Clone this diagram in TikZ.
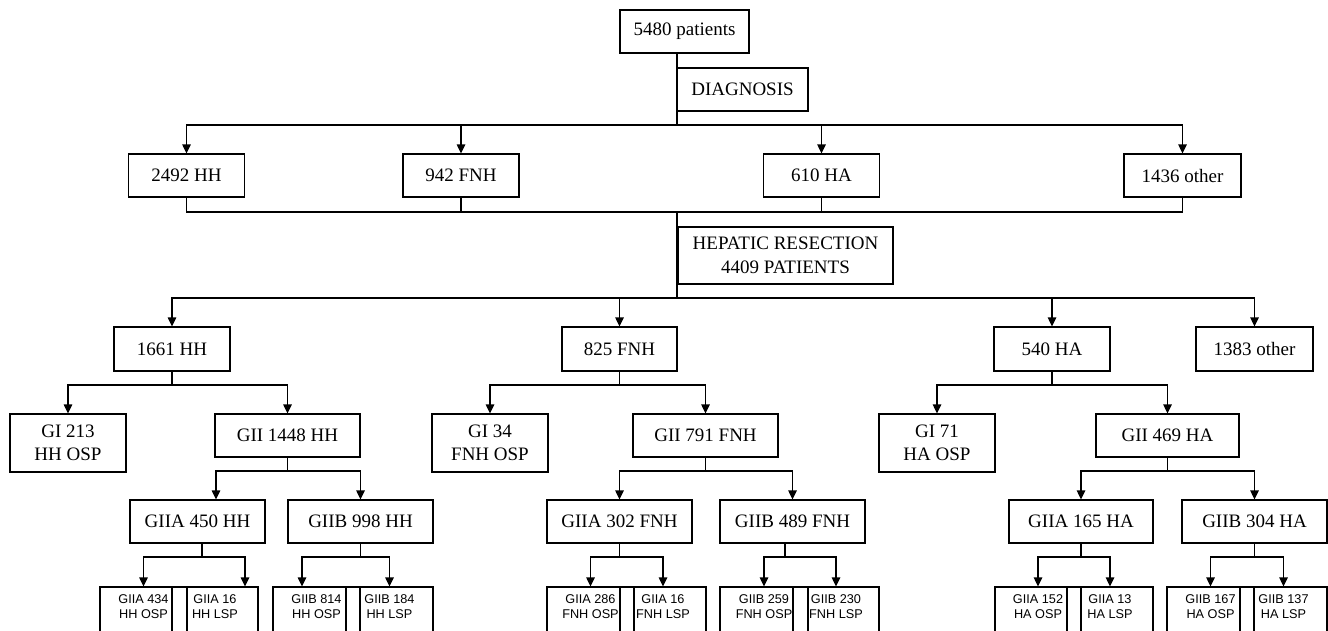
\documentclass[tikz,border=0pt]{standalone}
\usepackage{fontspec}
\setmainfont{Liberation Serif}
\newfontfamily\sansfnt{Liberation Sans}
\usetikzlibrary{arrows.meta}
\newcommand\fsbig{\fontsize{19}{23.5}\selectfont}
\newcommand\fssmall{\sansfnt\fontsize{12.7}{15}\selectfont}
\newcommand\lowstrut{\rule[-9pt]{0pt}{9pt}}
\tikzset{
  box/.style={draw, line width=1.2pt, inner sep=0pt, align=center, font=\fsbig, minimum height=43pt},
  sbox/.style={draw, line width=1.2pt, inner sep=0pt, align=center, font=\fssmall, minimum height=48pt},
  conn/.style={line width=1.2pt},
  arr/.style={line width=1.2pt, -{Triangle[width=8.5pt,length=9pt]}},
}
\begin{document}
\begin{tikzpicture}[x=1pt,y=-1pt]
\useasboundingbox (0,0) rectangle (1328,630);
\clip (0,0) rectangle (1328,630);
\fill[white] (0,0) rectangle (1328,630);

% row 1
\node[box, minimum width=129pt] (p) at (684.5,31.5) {5480 patients};
\node[box, minimum width=131pt] (diag) at (742.5,89.5) {DIAGNOSIS};
% row 2
\node[box, minimum width=116pt] (hhA) at (186.5,175.5) {2492 HH};
\node[box, minimum width=116pt] (fnhA) at (461,175.5) {942 FNH};
\node[box, minimum width=116pt] (haA) at (821.5,175.5) {610 HA};
\node[box, minimum width=117pt] (othA) at (1182.5,175.5) {1436 other};
% hepatic
\node[box, minimum width=215pt, minimum height=57pt] (hep) at (785.5,255.5) {HEPATIC RESECTION\\4409 PATIENTS};
% row 3
\node[box, minimum width=116pt, minimum height=44pt] (hhB) at (172,349) {1661 HH};
\node[box, minimum width=115pt, minimum height=44pt] (fnhB) at (619.5,349) {825 FNH};
\node[box, minimum width=116pt, minimum height=44pt] (haB) at (1052,349) {540 HA};
\node[box, minimum width=117pt, minimum height=44pt] (othB) at (1254.5,349) {1383 other};
% row 4
\node[box, minimum width=116pt, minimum height=58pt] (gihh) at (68,443) {GI 213\\HH OSP};
\node[box, minimum width=145pt] (giihh) at (287.5,435.5) {GII 1448 HH};
\node[box, minimum width=116pt, minimum height=58pt] (gifnh) at (490,443) {GI 34\\FNH OSP};
\node[box, minimum width=145pt] (giifnh) at (705.5,435.5) {GII 791 FNH};
\node[box, minimum width=116pt, minimum height=58pt] (giha) at (937,443) {GI 71\\HA OSP};
\node[box, minimum width=143pt] (giiha) at (1167.5,435.5) {GII 469 HA};
% row 5
\node[box, minimum width=135pt] (aHH) at (197.5,521.5) {GIIA 450 HH};
\node[box, minimum width=145pt] (bHH) at (360.5,521.5) {GIIB 998 HH};
\node[box, minimum width=145pt] (aFNH) at (619.5,521.5) {GIIA 302 FNH};
\node[box, minimum width=145pt] (bFNH) at (792.5,521.5) {GIIB 489 FNH};
\node[box, minimum width=144pt] (aHA) at (1081,521.5) {GIIA 165 HA};
\node[box, minimum width=145pt] (bHA) at (1254.5,521.5) {GIIB 304 HA};
% row 6
\node[sbox, minimum width=87pt] (l1) at (143.5,611) {GIIA 434\\HH OSP\lowstrut};
\node[sbox, minimum width=86pt] (r1) at (215,611) {GIIA 16\\HH LSP\lowstrut};
\node[sbox, minimum width=87pt] (l2) at (316.5,611) {GIIB 814\\HH OSP\lowstrut};
\node[sbox, minimum width=87pt] (r2) at (389.5,611) {GIIB 184\\HH LSP\lowstrut};
\node[sbox, minimum width=87pt] (l3) at (590.5,611) {GIIA 286\\FNH OSP\lowstrut};
\node[sbox, minimum width=86pt] (r3) at (663,611) {GIIA 16\\FNH LSP\lowstrut};
\node[sbox, minimum width=88pt] (l4) at (764,611) {GIIB 259\\FNH OSP\lowstrut};
\node[sbox, minimum width=86pt] (r4) at (836,611) {GIIB 230\\FNH LSP\lowstrut};
\node[sbox, minimum width=86pt] (l5) at (1038,611) {GIIA 152\\HA OSP\lowstrut};
\node[sbox, minimum width=86pt] (r5) at (1110,611) {GIIA 13\\HA LSP\lowstrut};
\node[sbox, minimum width=87pt] (l6) at (1210.5,611) {GIIB 167\\HA OSP\lowstrut};
\node[sbox, minimum width=87pt] (r6) at (1283.5,611) {GIIB 137\\HA LSP\lowstrut};

% junctions
\coordinate (j0) at (677,125);
\coordinate (j1) at (677,212);
\coordinate (j2) at (677,298);
\coordinate (j3) at (172,385);
\coordinate (j4) at (619.5,385);
\coordinate (j5) at (1052,385);
\coordinate (j6) at (287.5,471);
\coordinate (j7) at (705.5,471);
\coordinate (j8) at (1167.5,471);
\coordinate (j9) at (202,557);
\coordinate (j10) at (360.5,557);
\coordinate (j11) at (619.5,557);
\coordinate (j12) at (785,557);
\coordinate (j13) at (1081,557);
\coordinate (j14) at (1254.5,557);

% top
\draw[conn] (p.south -| j0) -- (j0);
\foreach \n in {hhA,fnhA,haA,othA} \draw[arr] (j0) -| (\n);
\foreach \n in {hhA,fnhA,haA,othA} \draw[conn] (\n) |- (j1);
\draw[conn] (j1) -- (j2);
\foreach \n in {hhB,fnhB,haB,othB} \draw[arr] (j2) -| (\n);
% row 3 -> row 4
\draw[conn] (hhB) -- (j3);
\draw[arr] (j3) -| (gihh);
\draw[arr] (j3) -| (giihh);
\draw[conn] (fnhB) -- (j4);
\draw[arr] (j4) -| (gifnh);
\draw[arr] (j4) -| (giifnh);
\draw[conn] (haB) -- (j5);
\draw[arr] (j5) -| (giha);
\draw[arr] (j5) -| (giiha);
% row 4 -> row 5
\draw[conn] (giihh) -- (j6);
\draw[arr] (j6) -| ([xshift=18.5pt]aHH.north);
\draw[arr] (j6) -| (bHH);
\draw[conn] (giifnh) -- (j7);
\draw[arr] (j7) -| (aFNH);
\draw[arr] (j7) -| (bFNH);
\draw[conn] (giiha) -- (j8);
\draw[arr] (j8) -| (aHA);
\draw[arr] (j8) -| (bHA);
% row 5 -> row 6
\draw[conn] ([xshift=4.5pt]aHH.south) -- (j9);
\draw[arr] (j9) -| (l1);
\draw[arr] (j9) -| ([xshift=30pt]r1.north);
\draw[conn] (bHH) -- (j10);
\draw[arr] (j10) -| ([xshift=-14.5pt]l2.north);
\draw[arr] (j10) -| (r2);
\draw[conn] (aFNH) -- (j11);
\draw[arr] (j11) -| (l3);
\draw[arr] (j11) -| (r3);
\draw[conn] ([xshift=-7.5pt]bFNH.south) -- (j12);
\draw[arr] (j12) -| (l4);
\draw[arr] (j12) -| (r4);
\draw[conn] (aHA) -- (j13);
\draw[arr] (j13) -| (l5);
\draw[arr] (j13) -| (r5);
\draw[conn] (bHA) -- (j14);
\draw[arr] (j14) -| (l6);
\draw[arr] (j14) -| (r6);
\end{tikzpicture}
\end{document}
